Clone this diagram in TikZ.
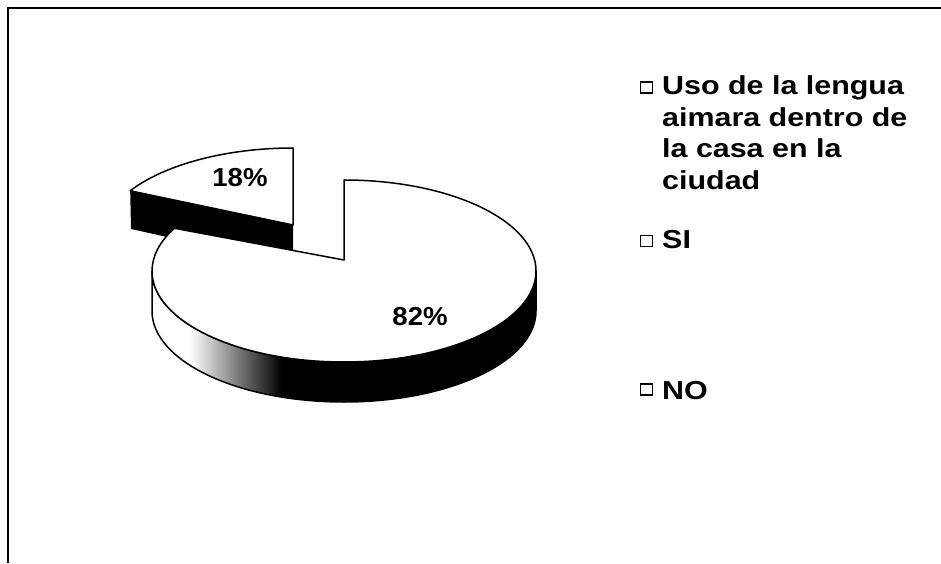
\documentclass[tikz,border=0pt]{standalone}
\usepackage{fontspec}
\newfontfamily\legfont{Liberation Sans}[FakeStretch=1.17]
\newfontfamily\labfont{Liberation Sans}[FakeStretch=1.06]
\tikzset{
  pieline/.style={draw=black, line width=1.5pt, line join=round},
  lab/.style={inner sep=0pt, anchor=center, font=\labfont\bfseries\fontsize{26}{30}\selectfont},
  legtxt/.style={inner sep=0pt, anchor=base west, font=\legfont\bfseries\fontsize{26}{31}\selectfont},
  legbox/.style={draw=black, line width=1.5pt, fill=white, minimum width=12pt, minimum height=11pt, inner sep=0pt}
}
\begin{document}
\begin{tikzpicture}[x=1pt,y=1pt]
\useasboundingbox (0,0) rectangle (941,563);
\fill[white] (0,0) rectangle (941,563);
% frame (top and left only)
\draw[line width=2.4pt] (8,0) -- (8,555) -- (941,555);

% 18% slice: dark cut face
\fill[black] (130.2,372.2) -- (293,338) -- (293,298) -- (131,334) -- cycle;
% 18% slice: top face
\draw[pieline, fill=white] (293,338) -- (293,415)
  arc[start angle=90, end angle=148, x radius=192, y radius=91] -- cycle;

% main slice: side band
\begin{scope}
  \clip (536,292) arc[start angle=0, end angle=-180, x radius=192, y radius=91]
    -- (152,252) arc[start angle=180, end angle=360, x radius=192, y radius=91] -- cycle;
  \fill[white] (140,150) rectangle (190,300);
  \shade[left color=white, right color=black] (190,150) rectangle (282,300);
  \fill[black] (282,150) rectangle (545,300);
\end{scope}
\draw[pieline] (536,292) arc[start angle=0, end angle=-180, x radius=192, y radius=91]
  -- (152,252) arc[start angle=180, end angle=360, x radius=192, y radius=91] -- cycle;

% main slice: top face
\draw[pieline, fill=white] (344,303) -- (344,383)
  arc[start angle=90, end angle=-208, x radius=192, y radius=91] -- cycle;

% slice labels
\node[lab] (p18) at (240,385.5) {18\%};
\node[lab] (p82) at (420,246.5) {82\%};

% legend
\node[legbox] (b1) at (646.5,475.5) {};
\node[legtxt] (t1a) at (662,468) {Uso de la lengua};
\node[legtxt] (t1b) at (662,436) {aimara dentro de};
\node[legtxt] (t1c) at (662,405) {la casa en la};
\node[legtxt] (t1d) at (662,373) {ciudad};
\node[legbox] (b2) at (646.5,322) {};
\node[legtxt] (t2) at (662,315) {SI};
\node[legbox] (b3) at (646.5,173.5) {};
\node[legtxt] (t3) at (662,164) {NO};
\end{tikzpicture}
\end{document}
